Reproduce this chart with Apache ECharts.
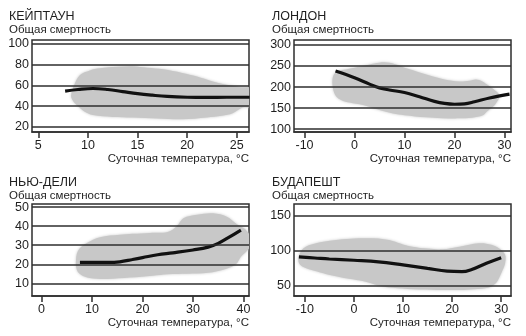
<!DOCTYPE html>
<html>
<head>
<meta charset="utf-8">
<script src="https://cdn.jsdelivr.net/npm/echarts@6/dist/echarts.min.js"></script>
<style>
  html, body { margin: 0; padding: 0; background: #ffffff; }
  #chart { width: 526px; height: 336px; }
</style>
</head>
<body>
<div id="chart"></div>
<script>
// Daily mortality vs. daily temperature in four cities:
// grey cloud = spread of daily counts, black curve = fitted relationship.
const cityNames = ['КЕЙПТАУН', 'ЛОНДОН', 'НЬЮ-ДЕЛИ', 'БУДАПЕШТ'];
const yAxisTitle = 'Общая смертность';
const xAxisTitle = 'Суточная температура, °C';

// Cape Town
const capeTownXTicks = [5, 10, 15, 20, 25];
const capeTownYTicks = [20, 40, 60, 80, 100];
const capeTownCurve = [[7.7, 54.5], [9, 56], [10.5, 57], [12, 56], [13.5, 54], [15, 52],
  [16.5, 50.5], [18, 49.3], [20, 48.5], [22, 48.3], [24, 48.5], [26.3, 48.5]];
const capeTownCloud = [[8.3, 50], [8.6, 60], [9.2, 70], [10.2, 74.5], [11.2, 76.5], [13, 78],
  [14.5, 78.5], [16, 77], [17.6, 75.5], [19.5, 72], [21, 68.5], [22.5, 64], [24, 60.5],
  [25.2, 58.5], [27, 56], [27, 40], [25.6, 38.5], [24.6, 33], [23.5, 30.5], [22, 29],
  [19.5, 27.2], [17, 28], [14.5, 29], [12.5, 29.5], [10.5, 31.3], [9.6, 35], [9.0, 40], [8.5, 45]];

// London
const londonXTicks = [-10, 0, 10, 20, 30];
const londonYTicks = [100, 150, 200, 250, 300];
const londonCurve = [[-3.8, 238], [0, 222], [3, 207], [5, 198], [7, 193], [10, 187], [13, 177],
  [16, 166], [18, 161], [20, 159], [22, 160], [24, 165], [27, 174], [31, 183]];
const londonCloud = [[-4.4, 205], [-4.2, 228], [-3.2, 238], [-1.7, 242], [1.7, 250], [4, 256],
  [6, 259], [8, 255], [10, 246], [11.7, 240], [13.7, 232], [15.7, 225], [18, 218], [21, 213],
  [23, 215], [24.3, 218], [25.5, 214], [26.5, 206], [28, 193], [29, 180], [28.5, 165],
  [27.7, 153], [26.5, 142], [25.7, 133], [23.5, 127], [21, 125.5], [17.5, 126], [14.3, 128],
  [10, 133], [7.7, 137], [4.5, 147], [1.7, 157], [-1, 163], [-2.5, 168], [-3.8, 180]];

// New Delhi
const delhiXTicks = [0, 10, 20, 30, 40];
const delhiYTicks = [10, 20, 30, 40, 50];
const delhiCurve = [[7.6, 21], [10, 21], [13, 21], [15.5, 21.3], [18, 22.5], [20, 23.5],
  [23, 25], [26, 26], [30, 27.5], [33, 29], [35, 31], [37, 34], [39.5, 38]];
const delhiCloud = [[6.8, 21], [7.2, 27], [8.9, 31], [11.6, 34.2], [15.5, 35.5], [18, 36],
  [21.5, 36.5], [25, 37], [26.8, 40], [28.1, 44.2], [30.8, 46], [34, 46.8], [36.7, 45],
  [38.7, 41], [40.5, 38], [41.5, 33], [41, 28], [39.5, 24], [38.5, 20], [36.5, 17.5],
  [33, 15.5], [29, 15], [25, 14.8], [22, 14], [17.5, 13], [13, 12.3], [9.5, 12.8], [7.8, 14.5], [7, 17]];

// Budapest
const budapestXTicks = [-10, 0, 10, 20, 30];
const budapestYTicks = [50, 100, 150];
const budapestCurve = [[-11.2, 91], [-8, 89.5], [-5, 88], [0, 86.2], [5, 84], [10, 79.5],
  [15, 74.5], [19, 70.5], [22, 69.8], [24, 73], [27, 82], [30, 90]];
const budapestCloud = [[-11.3, 88], [-10.8, 99], [-9.7, 106], [-7.5, 111], [-4.9, 114.4],
  [-1.5, 117], [1.8, 118], [5, 117.5], [7.9, 114], [10, 109], [11.9, 105.8], [15, 103], [18, 102],
  [21.5, 105.8], [25.5, 110.6], [28, 108.5], [29.6, 103], [30.8, 94], [30.8, 82], [30.3, 72],
  [29.6, 61], [28.9, 53], [27.5, 47], [24.5, 44.5], [21.5, 43.4], [17, 43.5], [12, 44.5],
  [7.9, 46.5], [5, 50], [2, 56], [-1, 59.5], [-4.9, 65], [-7.5, 70], [-9.7, 74.6], [-11, 80]];

const FONT = '"Liberation Sans", Arial, sans-serif';
const INK = '#1e1e1e';
const FRAME = '#2e2e2e';
const CLOUD = '#c8c8c8';

const panels = [
  { name: cityNames[0], curve: capeTownCurve, cloud: capeTownCloud, xTicks: capeTownXTicks, yTicks: capeTownYTicks,
    grid: { left: 32, top: 40, width: 217, height: 92 }, x: [4.36, 26.24], y: [14.9, 103.9] },
  { name: cityNames[1], curve: londonCurve, cloud: londonCloud, xTicks: londonXTicks, yTicks: londonYTicks,
    grid: { left: 294, top: 40, width: 217, height: 92 }, x: [-12.1, 31.3], y: [93, 312] },
  { name: cityNames[2], curve: delhiCurve, cloud: delhiCloud, xTicks: delhiXTicks, yTicks: delhiYTicks,
    grid: { left: 32, top: 204, width: 217, height: 92 }, x: [-1.9, 41.1], y: [3.3, 51.7] },
  { name: cityNames[3], curve: budapestCurve, cloud: budapestCloud, xTicks: budapestXTicks, yTicks: budapestYTicks,
    grid: { left: 294, top: 204, width: 217, height: 92 }, x: [-12.2, 32], y: [34.7, 167.3] }
];

function cloudRenderer(points) {
  return function (params, api) {
    if (params.dataIndex !== 0) return null;
    return {
      type: 'polygon',
      shape: { points: points.map(function (p) { return api.coord(p); }), smooth: 0.35 },
      style: { fill: CLOUD, shadowBlur: 3, shadowColor: CLOUD }
    };
  };
}

const option = {
  animation: false,
  backgroundColor: '#ffffff',
  textStyle: { fontFamily: FONT },
  grid: [], xAxis: [], yAxis: [], series: [], graphic: []
};

panels.forEach(function (p, i) {
  const g = p.grid;
  option.grid.push({
    left: g.left, top: g.top, width: g.width, height: g.height,
    show: true, borderColor: FRAME, borderWidth: 1.5, backgroundColor: 'transparent'
  });
  option.xAxis.push({
    type: 'value', gridIndex: i, min: p.x[0], max: p.x[1],
    axisLine: { show: true, onZero: false, lineStyle: { color: FRAME, width: 1.5 } },
    axisTick: { show: true, customValues: p.xTicks, length: 6, lineStyle: { color: FRAME, width: 1.5 } },
    axisLabel: { customValues: p.xTicks, fontSize: 12.5, color: INK, margin: 7, fontFamily: FONT },
    splitLine: { show: false }
  });
  option.yAxis.push({
    type: 'value', gridIndex: i, min: p.y[0], max: p.y[1],
    axisLine: { show: false },
    axisTick: { show: false },
    axisLabel: { customValues: p.yTicks, fontSize: 12.5, color: INK, margin: 3, fontFamily: FONT },
    splitLine: { show: false }
  });
  option.series.push({
    type: 'custom', xAxisIndex: i, yAxisIndex: i, clip: true, z: 2,
    renderItem: cloudRenderer(p.cloud),
    data: p.cloud, encode: { x: 0, y: 1 },
    markLine: {
      silent: true, symbol: ['none', 'none'], label: { show: false },
      lineStyle: { color: FRAME, width: 1.5, type: 'solid' },
      emphasis: { disabled: true },
      data: p.yTicks.map(function (v) { return { yAxis: v }; })
    }
  });
  option.series.push({
    type: 'line', xAxisIndex: i, yAxisIndex: i, z: 3,
    data: p.curve, smooth: 0.4, symbol: 'none', clip: true,
    lineStyle: { color: '#111111', width: 3.2 }
  });

  const tx = i % 2 === 0 ? 9 : 272;
  const ty = i < 2 ? 0 : 166;
  option.graphic.push({
    type: 'text', left: tx, top: ty + 10,
    style: { text: p.name, font: '12.5px ' + FONT, fill: INK }
  });
  option.graphic.push({
    type: 'text', left: tx, top: ty + 23.5,
    style: { text: yAxisTitle, font: '11.5px ' + FONT, fill: INK }
  });
  option.graphic.push({
    type: 'text', right: 526 - (g.left + g.width), top: g.top + g.height + 21,
    style: { text: xAxisTitle, font: '11.5px ' + FONT, fill: INK }
  });
});

const chart = echarts.init(document.getElementById('chart'), null, { renderer: 'canvas' });
chart.setOption(option);
</script>
</body>
</html>
